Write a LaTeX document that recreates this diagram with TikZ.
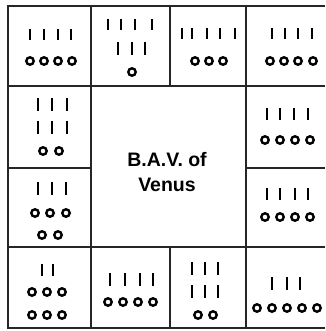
\documentclass[tikz,border=0pt]{standalone}
\usepackage{fontspec}
\setmainfont{Liberation Sans}
\usepackage{tikz}
\usetikzlibrary{positioning}

\begin{document}
\begin{tikzpicture}[x=1pt,y=-1pt,
        grid/.style={line width=1.1pt,black!85},
        tally/.style={line width=2.8pt,black},
        bead/.style={line width=2.4pt,black}
      ]
        \useasboundingbox (0,0) rectangle (325,331);
        % frame and cell walls
        \draw[grid] (325,6)--(8,6)--(8,328)--(325,328);
        \draw[grid] (8,86)--(325,86);
        \draw[grid] (8,247)--(325,247);
        \draw[grid] (8,168)--(91,168);
        \draw[grid] (246,168)--(325,168);
        \draw[grid] (91,6)--(91,328);
        \draw[grid] (246,6)--(246,328);
        \draw[grid] (170,6)--(170,86);
        \draw[grid] (170,247)--(170,328);

        \node[font=\bfseries\fontsize{19.5}{25}\selectfont,align=center]
          (bav) at (167,172) {B.A.V. of\\Venus};

        % top row
        \foreach \x in {30,44,58,71} \draw[tally] (\x,29)--(\x,40);
        \foreach \x in {30,44,58,72} \draw[bead] (\x,61) circle (3.7);
        \foreach \x in {108,121,135,152} \draw[tally] (\x,19)--(\x,30);
        \foreach \x in {118,132,145} \draw[tally] (\x,42)--(\x,55);
        \draw[bead] (132,72) circle (3.7);
        \foreach \x in {182,192,207,220,235} \draw[tally] (\x,28)--(\x,39);
        \foreach \x in {195,209,223} \draw[bead] (\x,61) circle (3.7);
        \foreach \x in {272,285,298,312} \draw[tally] (\x,28)--(\x,39);
        \foreach \x in {270,284,298,313} \draw[bead] (\x,61) circle (3.7);

        % left column
        \foreach \x in {38,52,67} \draw[tally] (\x,98)--(\x,111);
        \foreach \x in {38,52,67} \draw[tally] (\x,121)--(\x,134);
        \foreach \x in {43,59} \draw[bead] (\x,151) circle (3.7);
        \foreach \x in {38,52,66} \draw[tally] (\x,182)--(\x,195);
        \foreach \x in {35,50,66} \draw[bead] (\x,213) circle (3.7);
        \foreach \x in {42,58} \draw[bead] (\x,235) circle (3.7);

        % right column
        \foreach \x in {267,280,294,308} \draw[tally] (\x,108)--(\x,120);
        \foreach \x in {265,280,295,310} \draw[bead] (\x,140) circle (3.7);
        \foreach \x in {267,280,295,308} \draw[tally] (\x,188)--(\x,200);
        \foreach \x in {265,280,295,310} \draw[bead] (\x,217) circle (3.7);

        % bottom row
        \foreach \x in {42,53} \draw[tally] (\x,264)--(\x,276);
        \foreach \x in {32,47,62} \draw[bead] (\x,292) circle (3.7);
        \foreach \x in {32,47,62} \draw[bead] (\x,315) circle (3.7);
        \foreach \x in {110,125,140,153} \draw[tally] (\x,273)--(\x,286);
        \foreach \x in {108,123,138,153} \draw[bead] (\x,302) circle (3.7);
        \foreach \x in {192,205,218} \draw[tally] (\x,262)--(\x,275);
        \foreach \x in {192,205,218} \draw[tally] (\x,285)--(\x,298);
        \foreach \x in {198,213} \draw[bead] (\x,315) circle (3.7);
        \foreach \x in {272,287,300} \draw[tally] (\x,277)--(\x,290);
        \foreach \x in {257,272,287,302,317} \draw[bead] (\x,308) circle (3.7);
      \end{tikzpicture}
\end{document}
